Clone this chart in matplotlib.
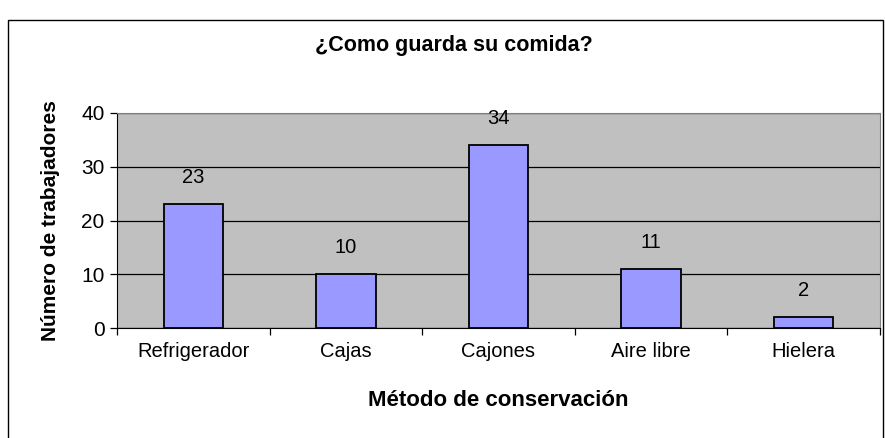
import matplotlib.pyplot as plt
from matplotlib.patches import Rectangle

plt.rcParams['font.family'] = ['Liberation Sans', 'DejaVu Sans']

# data
metodos = ['Refrigerador', 'Cajas', 'Cajones', 'Aire libre', 'Hielera']
trabajadores = [23, 10, 34, 11, 2]
y_ticks = [0, 10, 20, 30, 40]

fig = plt.figure(figsize=(8.85, 4.38), dpi=100)
W, H = 885, 438

# outer chart frame (bottom edge falls outside the image)
fig.patches.append(Rectangle((8 / W, -5 / H), (883 - 8) / W, (H - 20 + 5) / H,
                             transform=fig.transFigure, fill=False,
                             edgecolor='black', linewidth=1))

# plot area
left, right, top, bottom = 117, 880, 113, 328
ax = fig.add_axes([left / W, 1 - bottom / H, (right - left) / W, (bottom - top) / H])
ax.set_facecolor('#C0C0C0')

x = list(range(len(metodos)))
ax.bar(x, trabajadores, width=0.39, color='#9999FF', edgecolor='black',
       linewidth=1.3, zorder=3)

for xi, v in zip(x, trabajadores):
    ax.annotate(str(v), (xi, v), xytext=(0, 19), textcoords='offset points',
                ha='center', va='center', fontsize=14.5, zorder=4)

ax.set_xlim(-0.5, len(metodos) - 0.5)
ax.set_ylim(0, 40)
ax.set_yticks(y_ticks)
ax.yaxis.grid(True, color='black', linewidth=0.9, zorder=1)
ax.set_axisbelow(True)

# category ticks at boundaries, labels at centers
ax.set_xticks([i - 0.5 for i in range(len(metodos) + 1)])
ax.set_xticklabels([])
ax.set_xticks(x, minor=True)
ax.set_xticklabels(metodos, minor=True, fontsize=14.5)
ax.tick_params(axis='x', which='minor', length=0, pad=10)
ax.tick_params(axis='x', which='major', length=5, direction='out', width=0.9)
ax.tick_params(axis='y', length=5, direction='out', width=0.9, labelsize=15, pad=4)

for s in ['top', 'right']:
    ax.spines[s].set_color('#808080')
for s in ['left', 'bottom']:
    ax.spines[s].set_color('black')

ax.set_xlabel('Método de conservación', fontsize=16, fontweight='bold', va='center')
ax.xaxis.set_label_coords(0.5, (bottom - 400) / (bottom - top))
ax.set_ylabel('Número de trabajadores', fontsize=15, fontweight='bold', va='center')
ax.yaxis.set_label_coords((51 - left) / (right - left), 0.5)

fig.text(454 / W, 1 - 45 / H, '¿Como guarda su comida?', ha='center', va='center',
         fontsize=15.5, fontweight='bold')

fig.savefig('out.png', dpi=100)
